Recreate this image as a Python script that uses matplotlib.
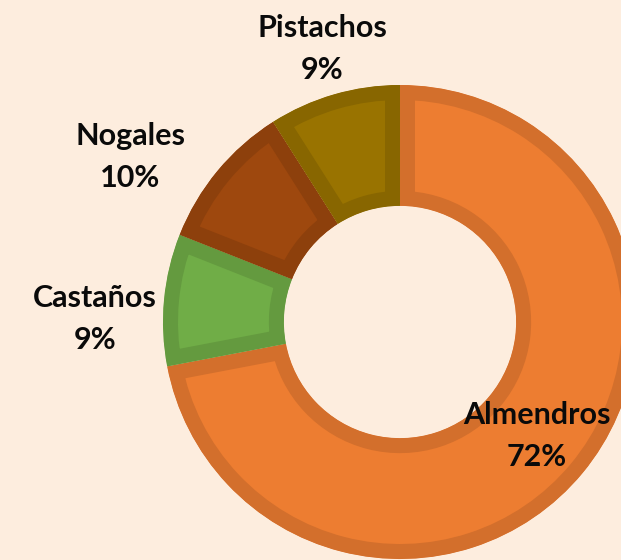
import matplotlib
matplotlib.use("Agg")
import matplotlib.pyplot as plt
from matplotlib.colors import to_rgb

# --- DATOS ---
categorias = ["Almendros", "Castaños", "Nogales", "Pistachos"]
porcentajes = [72, 9, 10, 9]
colores = ["#ED7D31", "#70AD47", "#9E480E", "#997300"]

FONDO = "#FDEDDE"
W, H, DPI = 621, 560, 100
CX, CY, R = 400, 322, 237   # centro y radio del anillo en pixeles

def oscurecer(c, f=0.89):
    r, g, b = to_rgb(c)
    return (r * f, g * f, b * f)

fig = plt.figure(figsize=(W / DPI, H / DPI), dpi=DPI, facecolor=FONDO)
ax = fig.add_axes([0, 0, 1, 1])
ax.set_facecolor(FONDO)

wedges, _ = ax.pie(porcentajes, colors=colores, startangle=90, counterclock=False,
                   radius=1, wedgeprops=dict(width=0.51))

# pie() pone sus propios limites, se reajustan despues
ax.set_aspect("auto")
ax.set_xlim(-CX / R, (W - CX) / R)
ax.set_ylim(-(H - CY) / R, CY / R)
ax.axis("off")

# borde interior oscuro de cada porcion (se recorta a la propia porcion)
for w, c in zip(wedges, colores):
    w.set_edgecolor(oscurecer(c))
    w.set_linewidth(30 * 72 / DPI)
    w.set_clip_on(True)
    w.set_clip_path(w)

# etiquetas (posiciones en pixeles de la imagen)
pos_etiquetas = {
    "Almendros": (537, 436),
    "Castaños": (95, 319),
    "Nogales": (130, 157),
    "Pistachos": (322, 49),
}
for cat, p in zip(categorias, porcentajes):
    px, py = pos_etiquetas[cat]
    x = (px - CX) / R
    y = (CY - py) / R
    ax.text(x, y, f"{cat}\n{p}%", ha="center", va="center", fontsize=22,
            fontweight="bold", family="Lato", color="#0a0a0a", linespacing=1.6)

fig.savefig("out.png", dpi=DPI, facecolor=FONDO)
